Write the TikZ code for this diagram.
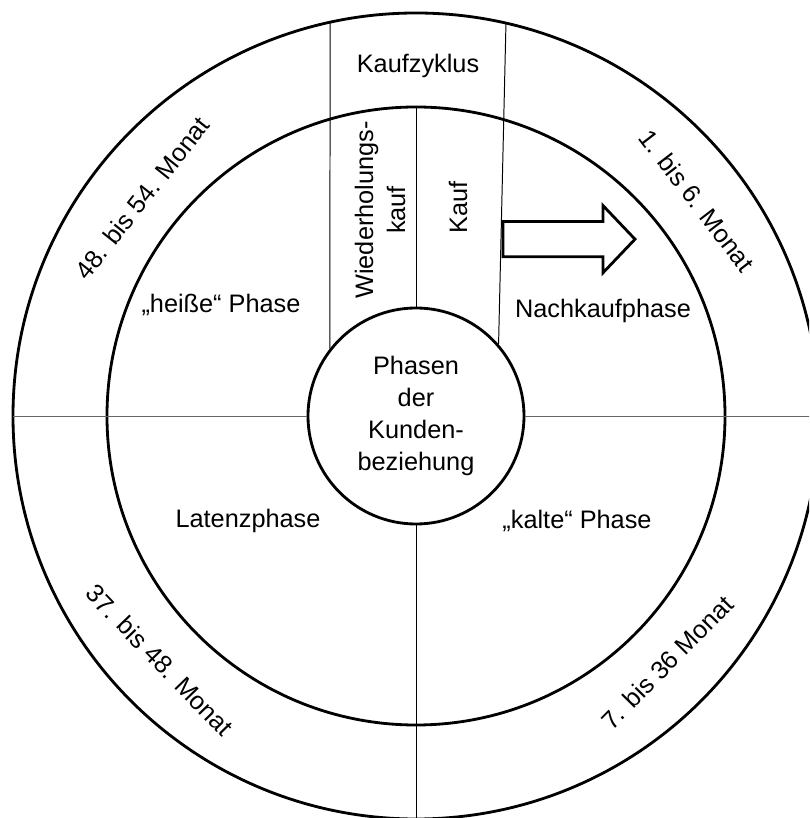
\documentclass[tikz,border=0pt]{standalone}
\usepackage{fontspec}
\setmainfont{Liberation Sans}
\usetikzlibrary{positioning, calc}
\tikzset{
  ring/.style={draw=black, line width=2pt},
  divider/.style={draw=#1, line width=0.7pt},
  divider/.default=black,
  lbl/.style={font=\fontsize{18}{22.8}\selectfont, align=center, inner sep=0pt},
  monthlbl/.style={lbl, rotate=#1},
  blockarr/.style={draw=black, line width=2pt, line join=miter, fill=white},
}

\begin{document}
\begin{tikzpicture}
  \useasboundingbox (-10.4,-10.05) rectangle (9.825,10.4);
  \clip (-10.4,-10.05) rectangle (9.825,10.4);
  \fill[white] (-10.4,-10.05) rectangle (9.825,10.4);

  % ===================== rings ==================
  \draw[ring] (0,0) circle (10.075);
  \draw[ring] (0,0) circle (7.725);
  \node[ring, circle, minimum size=5.4cm, lbl] (core) at (0,0)
    {Phasen\\der\\Kunden-\\beziehung};

  % ===================== dividers ==================
  \coordinate (outW) at (180:10.075);
  \coordinate (outE) at (0:10.075);
  \coordinate (outS) at (-90:10.075);
  \coordinate (inN)  at (90:7.725);
  \draw[divider=black!60] (outW) -- (core.west);
  \draw[divider=black!60] (core.east) -- (outE);
  \draw[divider] (core.south) -- (outS);
  \draw[divider] (core.north) -- (inN);
  % purchase cycle sector
  \coordinate (zykL) at (102.3:10.075);
  \coordinate (zykR) at (77.1:10.075);
  \draw[divider] (core.142.8) -- (zykL);
  \draw[divider] (core.41.4) -- (zykR);

  % ===================== labels ==================
  \node[lbl] (zyklus) at (0.05,8.75) {Kaufzyklus};
  \node[lbl, rotate=90] (wkauf) at (-0.9,5.15) {Wiederholungs-\\kauf};
  \node[lbl, rotate=90] (kauf) at (1.05,5.225) {Kauf};
  \node[lbl] (heiss) at (-4.875,2.775) {„heiße“ Phase};
  \node[lbl] (nach) at (4.675,2.625) {Nachkaufphase};
  \node[lbl] (latenz) at (-4.2,-2.625) {Latenzphase};
  \node[lbl] (kalt) at (4.025,-2.625) {„kalte“ Phase};

  % month ranges on the outer ring
  \foreach \ang/\rot/\rad/\txt in {141.5/51.5/8.75/48. bis 54. Monat,
                                  37.5/-52.5/8.85/1. bis 6. Monat,
                                  -136.4/-46/8.85/37. bis 48. Monat,
                                  -44.5/45.5/8.8/7. bis 36 Monat} {
    \node[monthlbl=\rot] at (\ang:\rad) {\txt};
  }

  % ===================== block arrow ==================
  \coordinate (arrtail) at (2.175,4.42);
  \draw[blockarr] ($(arrtail)+(0,0.44)$) -- ++(2.5,0) -- ++(0,0.4)
    -- ($(arrtail)+(3.3,0)$) -- ($(arrtail)+(2.5,-0.84)$) -- ++(0,0.4)
    -- ($(arrtail)+(0,-0.44)$) -- cycle;
\end{tikzpicture}
\end{document}
